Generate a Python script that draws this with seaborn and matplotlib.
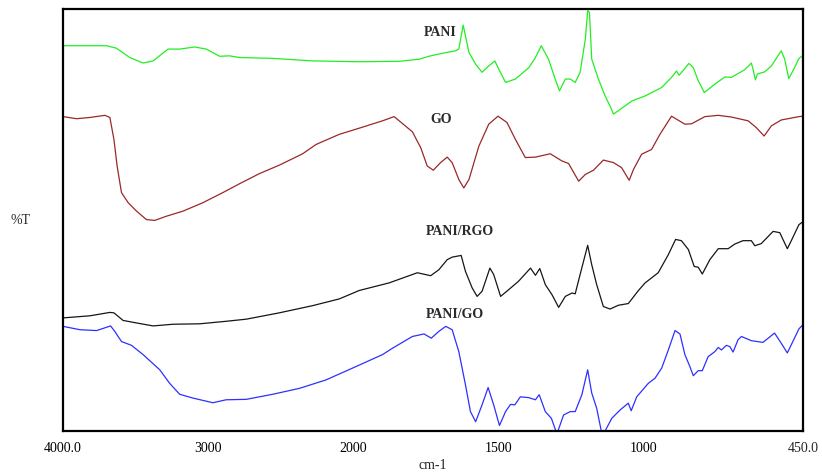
import numpy as np
import pandas as pd
import matplotlib
matplotlib.use("Agg")
import matplotlib.pyplot as plt
import seaborn as sns

# ---------------- data (wavenumber cm-1, %T arbitrary offset) ----------------
pani_wn = [4000, 3700, 3631, 3540, 3448, 3379, 3276, 3196, 3093, 3012, 2921, 2852, 2783,
           2555, 2280, 1979, 1842, 1773, 1739, 1693, 1647, 1636, 1621, 1613, 1601, 1578,
           1556, 1533, 1512, 1498, 1475, 1441, 1395, 1372, 1352, 1327, 1304, 1289, 1269,
           1252, 1235, 1218, 1200, 1192, 1186, 1178, 1155, 1132, 1115, 1103, 1080, 1040,
           994, 937, 903, 886, 877, 843, 828, 811, 790, 754, 719, 697, 651, 628, 622, 614,
           607, 582, 559, 525, 513, 499, 479, 464, 450]
pani_t = [91.3, 91.3, 90.7, 88.5, 87.2, 87.7, 90.5, 90.5, 91.0, 90.5, 88.8, 88.9, 88.5,
          88.3, 87.7, 87.5, 87.6, 88.1, 88.8, 89.5, 90.1, 90.5, 96.2, 93.6, 89.7, 86.9,
          85.0, 86.5, 87.7, 85.7, 82.6, 83.4, 86.1, 88.5, 91.3, 88.1, 83.4, 80.6, 83.4,
          83.4, 82.6, 85.0, 92.9, 99.6, 99.2, 88.1, 83.4, 79.4, 77.0, 75.1, 76.2, 78.2,
          79.4, 81.4, 83.8, 85.3, 84.3, 87.1, 86.1, 83.0, 80.2, 82.2, 83.9, 83.8, 85.6,
          87.2, 85.7, 83.2, 84.6, 85.1, 86.5, 90.1, 88.1, 83.5, 86.1, 88.3, 89.0]

go_wn = [4000, 3906, 3814, 3711, 3677, 3649, 3627, 3597, 3551, 3493, 3425, 3368, 3287,
         3173, 3036, 2898, 2783, 2646, 2509, 2348, 2256, 2096, 1968, 1899, 1859, 1831,
         1796, 1767, 1745, 1724, 1699, 1676, 1659, 1636, 1619, 1601, 1567, 1533, 1501,
         1470, 1441, 1407, 1372, 1321, 1281, 1258, 1223, 1200, 1172, 1138, 1103, 1075,
         1049, 1034, 1006, 972, 943, 903, 857, 834, 788, 742, 697, 639, 611, 584, 559,
         525, 464, 450]
go_t = [74.5, 74.0, 74.3, 74.8, 74.3, 69.1, 62.8, 56.5, 54.1, 52.1, 50.1, 49.9, 50.9,
        52.1, 54.1, 56.5, 58.6, 61.0, 63.0, 65.7, 67.9, 70.3, 72.0, 73.5, 74.5, 72.9,
        70.9, 67.1, 62.8, 61.8, 63.6, 64.9, 63.6, 59.6, 57.6, 59.6, 67.5, 72.7, 74.6,
        73.1, 69.1, 64.8, 64.9, 65.7, 64.0, 63.4, 59.2, 60.8, 61.8, 64.2, 63.6, 62.4,
        59.4, 62.0, 65.6, 66.7, 70.3, 74.6, 72.7, 72.8, 74.5, 74.8, 74.4, 73.5, 71.9,
        69.9, 72.3, 73.7, 74.5, 74.6]

rgo_wn = [4000, 3814, 3677, 3649, 3586, 3493, 3379, 3242, 3058, 2875, 2737, 2509, 2280,
          2096, 1979, 1876, 1779, 1733, 1705, 1676, 1659, 1628, 1613, 1590, 1573, 1556,
          1529, 1516, 1492, 1464, 1430, 1389, 1372, 1357, 1338, 1315, 1292, 1269, 1246,
          1235, 1218, 1192, 1178, 1161, 1138, 1115, 1086, 1052, 1017, 994, 949, 914, 889,
          869, 845, 825, 811, 797, 771, 742, 708, 685, 657, 628, 616, 594, 553, 530, 504,
          491, 464, 450]
rgo_t = [26.8, 27.3, 28.1, 28.0, 26.2, 25.6, 24.9, 25.3, 25.4, 26.0, 26.5, 28.0, 29.7,
         31.3, 33.3, 35.1, 37.5, 36.8, 38.2, 40.6, 41.2, 41.6, 37.8, 33.9, 31.9, 33.1,
         38.6, 37.1, 31.9, 33.5, 35.5, 38.6, 36.9, 38.5, 34.7, 32.3, 29.3, 31.9, 32.7,
         32.5, 37.1, 44.0, 39.4, 34.7, 29.5, 28.9, 29.8, 30.2, 33.3, 35.1, 37.5, 41.8,
         45.4, 45.1, 43.0, 39.0, 38.8, 37.2, 40.6, 43.2, 43.2, 44.3, 45.1, 45.1, 43.9,
         44.4, 47.3, 47.0, 43.2, 45.0, 48.9, 49.6]

pgo_wn = [4000, 3883, 3768, 3672, 3643, 3597, 3528, 3448, 3333, 3265, 3196, 3104, 2967,
          2875, 2737, 2555, 2371, 2188, 2005, 1899, 1865, 1796, 1756, 1731, 1705, 1681,
          1659, 1636, 1613, 1596, 1578, 1556, 1535, 1516, 1496, 1475, 1458, 1443, 1424,
          1395, 1372, 1359, 1338, 1317, 1298, 1275, 1252, 1235, 1212, 1192, 1178, 1161,
          1143, 1132, 1109, 1080, 1052, 1042, 1023, 983, 960, 937, 914, 891, 874, 857,
          840, 828, 811, 797, 777, 754, 742, 731, 714, 702, 691, 674, 662, 628, 588, 548,
          525, 504, 485, 464, 450]
pgo_t = [24.8, 24.0, 23.8, 24.9, 23.6, 21.2, 20.3, 18.1, 14.5, 11.3, 8.7, 7.8, 6.7,
         7.4, 7.5, 8.7, 10.1, 12.1, 14.9, 18.1, 19.6, 22.4, 23.0, 22.0, 23.6, 24.8,
         24.0, 18.8, 10.9, 4.6, 2.2, 6.2, 10.3, 6.2, 1.3, 4.6, 6.3, 6.2, 8.1,
         7.9, 7.4, 8.6, 4.6, 3.0, -0.7, 3.8, 4.6, 4.6, 8.6, 14.5, 9.0, 5.4,
         -0.7, 0.0, 3.0, 5.0, 6.6, 4.8, 8.1, 11.3, 12.5, 14.9, 19.2, 23.8, 23.0, 18.1,
         15.3, 13.1, 14.3, 14.3, 17.6, 18.8, 19.8, 19.2, 20.3, 20.0, 18.7, 21.6, 22.4,
         21.4, 21.0, 23.2, 20.8, 18.5, 21.2, 24.2, 25.2]

series_names = ["PANI", "GO", "PANI/RGO", "PANI/GO"]
series_colors = ["#22ee22", "#9a2828", "#161616", "#2f2fff"]

x_ticks = [4000, 3000, 2000, 1500, 1000, 500]
x_tick_labels = ["4000.0", "3000", "2000", "1500", "1000", ""]
x_end_label = "450.0"

label_wn = [1756, 1735, 1749, 1749]
label_t = [94.5, 73.9, 47.3, 27.6]

# ---------------- style ----------------
sns.set_style("white")
plt.rcParams["font.family"] = ["Liberation Serif", "DejaVu Serif"]

fig = plt.figure(figsize=(8.22, 4.74), dpi=100)
ax = fig.add_axes([63 / 822, 1 - 431 / 474, 740 / 822, 422 / 474])


# scale: below 2000 cm-1 the axis is expanded twofold (increasing map)
def fwd(x):
    x = np.asarray(x, dtype=float)
    return np.where(x >= 2000, x, 2 * x - 2000)


def inv(p):
    p = np.asarray(p, dtype=float)
    return np.where(p >= 2000, p, (p + 2000) / 2)


ax.set_xscale("function", functions=(fwd, inv))

frames = []
for name, wn, t in [("PANI", pani_wn, pani_t), ("GO", go_wn, go_t),
                    ("PANI/RGO", rgo_wn, rgo_t), ("PANI/GO", pgo_wn, pgo_t)]:
    frames.append(pd.DataFrame({"wn": wn, "T": t, "sample": name}))
df = pd.concat(frames, ignore_index=True)

for name, col in zip(series_names, series_colors):
    sub = df[df["sample"] == name]
    sns.lineplot(data=sub, x="wn", y="T", color=col, linewidth=0.9,
                 sort=False, estimator=None, ax=ax, legend=False,
                 solid_joinstyle="round", solid_capstyle="round")

for name, lx, ly in zip(series_names, label_wn, label_t):
    ax.text(lx, ly, name, ha="left", va="center", fontsize=10,
            fontweight="bold", color="#2a2a2a")

ax.set_xlim(4000, 450)
ax.set_ylim(0, 100)
ax.set_xticks(x_ticks)
ax.set_xticklabels(x_tick_labels)
ax.set_xticks([450], [x_end_label], minor=True)
ax.tick_params(axis="x", which="major", direction="out", length=4, width=1,
               labelsize=10, colors="black", pad=4)
ax.tick_params(axis="x", which="minor", length=0, labelsize=10, pad=8)
ax.set_yticks(np.arange(9.2, 90, 11.2))
ax.set_yticklabels([])
ax.tick_params(axis="y", direction="out", length=3, width=1)

for s in ax.spines.values():
    s.set_linewidth(1.6)
    s.set_color("black")

ax.set_xlabel("cm-1", fontsize=10, labelpad=3)
ax.set_ylabel("%T", fontsize=10, rotation=0, va="center", ha="center")
ax.yaxis.set_label_coords(-0.057, 0.5)

fig.savefig("out.png", dpi=100)
